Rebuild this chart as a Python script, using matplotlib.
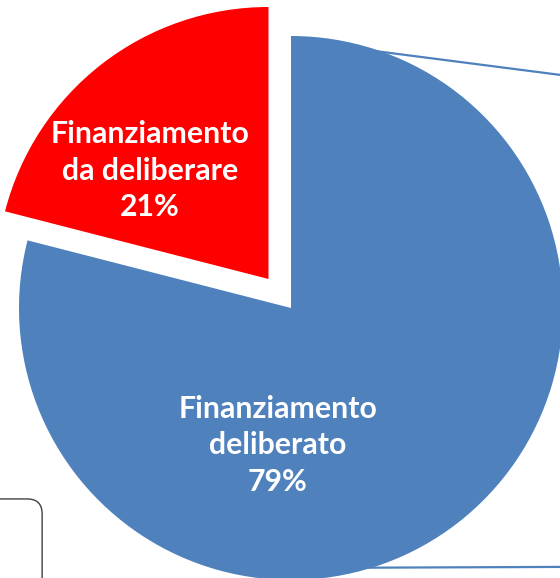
import matplotlib

matplotlib.use("Agg")
import matplotlib.pyplot as plt
from matplotlib.patches import FancyBboxPatch
import numpy as np

# Data
labels = ["Finanziamento\nda deliberare", "Finanziamento\ndeliberato"]
values = [21, 79]
colors = ["#FF0000", "#4F81BD"]
explode = [0.135, 0.0]

# text positions (data units, pie radius = 1)
label_pos = [(-0.518, 0.505), (-0.048, -0.505)]

fig = plt.figure(figsize=(5.6, 5.78), dpi=100)
ax = fig.add_axes([0, 0, 1, 1])

wedges, _ = ax.pie(
    values,
    colors=colors,
    explode=explode,
    startangle=90,
    counterclock=True,
    radius=1.0,
    wedgeprops=dict(linewidth=0),
)

total = sum(values)
for (x, y), lab, v in zip(label_pos, labels, values):
    ax.text(x, y, f"{lab}\n{v / total * 100:.0f}%", ha="center", va="center",
            color="white", fontsize=21.8, fontweight="bold", family="Lato",
            linespacing=1.36)

# connector lines toward the secondary chart (off to the right)
for ang, r, slope in [(88.7, 0.982, -0.129), (271.3, 0.956, 0.004)]:
    x0 = r * np.cos(np.radians(ang))
    y0 = r * np.sin(np.radians(ang))
    x1 = 1.3
    ax.plot([x0, x1], [y0, y0 + slope * (x1 - x0)], color="#4F81BD", lw=1.6,
            solid_capstyle="butt", zorder=5)

# partially visible rounded box in the lower-left corner
box = FancyBboxPatch((-1.3, -1.3), 1.3 - 0.915, 1.3 - 0.702,
                     boxstyle="round,pad=0,rounding_size=0.055",
                     facecolor="none", edgecolor="#404040", lw=1.0, zorder=6)
ax.add_patch(box)

ax.set_xlim(-291 / 272, 269 / 272)
ax.set_ylim(-270 / 272, 308 / 272)
ax.set_aspect("auto")
ax.axis("off")

fig.savefig("out.png", dpi=100, facecolor="white")
